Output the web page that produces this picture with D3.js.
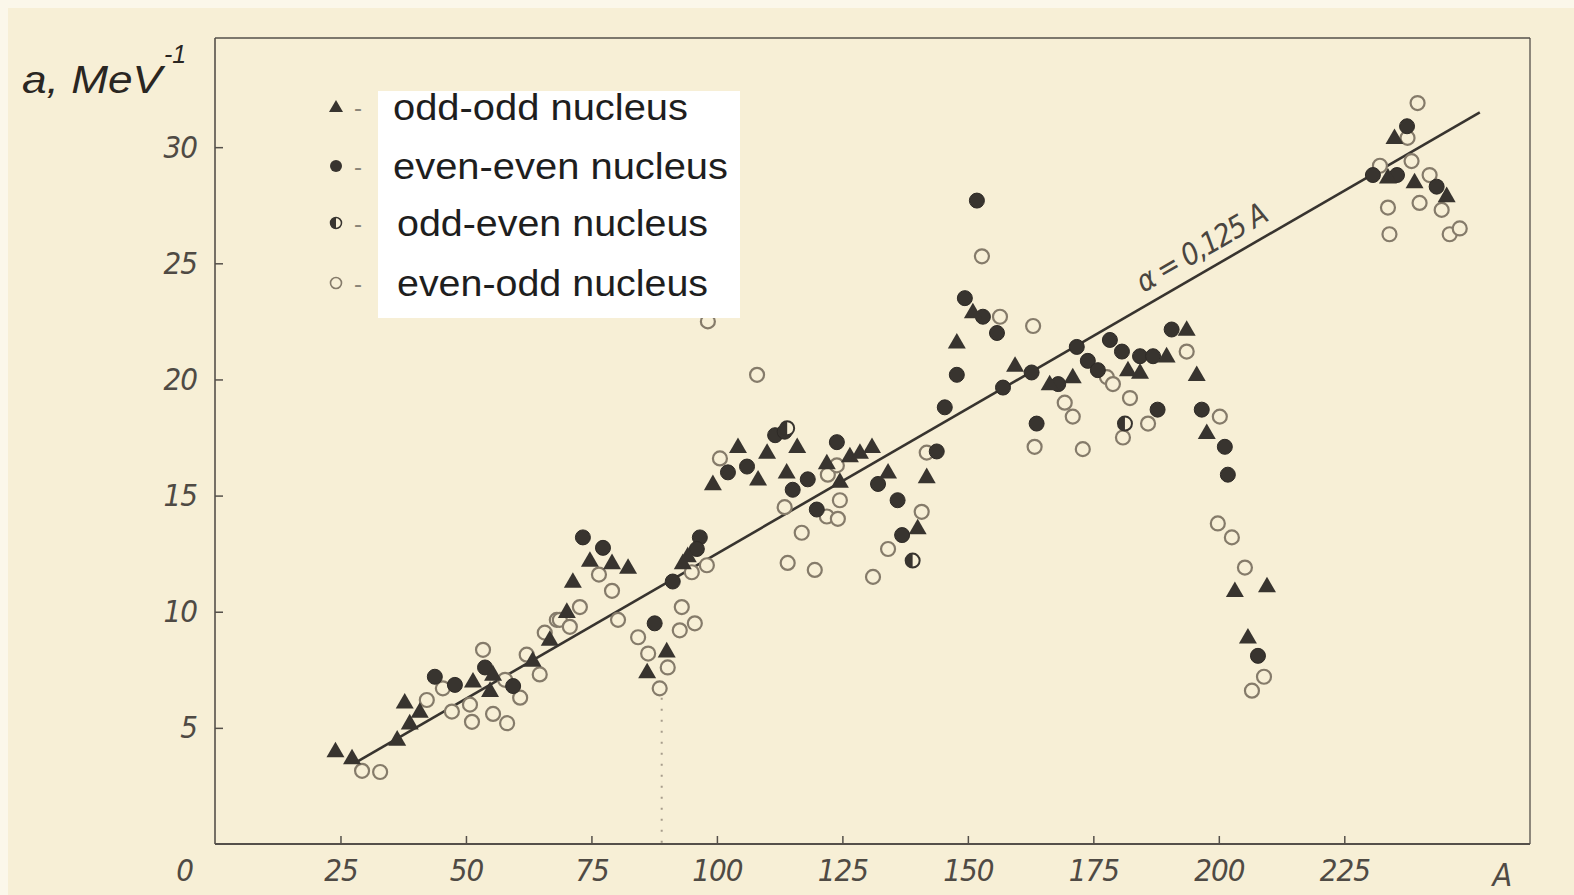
<!DOCTYPE html>
<html>
<head>
<meta charset="utf-8">
<script src="https://cdn.jsdelivr.net/npm/d3@7"></script>
<style>
  html, body { margin: 0; padding: 0; background: #f7efd6; }
  svg { display: block; }
</style>
</head>
<body>
<svg id="chart" width="1574" height="895"></svg>
<script>
// ---- data (A = mass number, a = level density parameter, MeV^-1) ----
const xTicks = [25, 50, 75, 100, 125, 150, 175, 200, 225];
const yTicks = [5, 10, 15, 20, 25, 30];
const legendLabels = ["odd-odd nucleus", "even-even nucleus", "odd-even nucleus", "even-odd nucleus"];
const fitSlope = 0.125;
const fitRange = [28, 252];
const fitLabel = "α = 0,125 A";

const oddOdd = [
  [24,4.0],[27.3,3.7],[36.3,4.5],[38.8,5.2],[37.8,6.1],[40.8,5.7],[51.4,7.0],[54.8,6.6],[55.4,7.3],
  [63.3,7.9],[66.7,8.8],[70.1,10.0],[71.3,11.3],[74.7,12.2],[79.1,12.1],[82.3,11.9],[86.1,7.4],[90.0,8.3],
  [93.2,12.1],[94.2,12.4],[99.2,15.5],[104.2,17.1],[108.2,15.7],[110,16.85],[113.9,16.0],[116,17.1],
  [121.9,16.4],[124.5,15.6],[126.5,16.7],[128.5,16.85],[130.9,17.1],[134.1,16.0],[140,13.6],[141.8,15.8],
  [147.8,21.6],[151,22.9],[159.4,20.6],[166.3,19.8],[170.9,20.1],[181.9,20.4],[184.3,20.3],[189.6,21.0],
  [193.6,22.15],[195.6,20.2],[197.6,17.7],[203.2,10.9],[209.6,11.1],[205.8,8.9],[235,30.4],[233.7,28.7],
  [239,28.5],[245.4,27.9]
];
const evenEven = [
  [43.8,7.2],[47.8,6.85],[53.8,7.6],[59.4,6.8],[73.3,13.2],[77.3,12.75],[87.6,9.5],[91.2,11.3],[96.6,13.2],
  [96.0,12.7],[102.2,16.0],[106,16.25],[111.6,17.6],[113.5,17.75],[115.1,15.25],[118.1,15.7],[119.9,14.4],
  [123.9,17.3],[132.1,15.5],[136,14.8],[136.9,13.3],[143.8,16.9],[145.4,18.8],[147.8,20.2],[149.4,23.5],
  [151.8,27.7],[153,22.7],[155.8,22.0],[157,19.65],[162.7,20.3],[163.7,18.1],[168,19.8],[171.7,21.4],
  [173.9,20.8],[175.9,20.4],[178.3,21.7],[180.7,21.2],[184.3,21.0],[186.9,21.0],[187.8,18.7],[190.6,22.15],
  [196.6,18.7],[201.2,17.1],[201.8,15.9],[207.8,8.1],[237.5,30.9],[230.7,28.8],[235.5,28.8],[243.4,28.3]
];
const oddEven = [[139,12.2],[181.3,18.1],[114,17.9]];
const evenOdd = [
  [29.3,3.15],[32.9,3.1],[42.2,6.2],[45.4,6.7],[47.2,5.7],[50.8,6.0],[51.2,5.26],[53.4,8.36],[55.4,5.6],
  [57.8,7.07],[58.2,5.2],[60.8,6.3],[62.1,8.15],[64.7,7.3],[68.1,9.65],[65.7,9.1],[68.7,9.65],[70.7,9.35],
  [72.7,10.2],[76.5,11.6],[79.1,10.9],[80.3,9.65],[84.3,8.9],[86.3,8.2],[88.6,6.7],[90.2,7.6],[92.6,9.2],
  [93.0,10.2],[95.6,9.5],[95.0,11.7],[98.0,12.0],[98.2,22.5],[100.6,16.6],[108,20.2],[113.5,14.5],
  [114.1,12.1],[116.9,13.4],[119.5,11.8],[121.9,14.1],[122.1,15.9],[123.9,16.3],[124.1,14.0],[124.5,14.8],
  [131.1,11.5],[134.1,12.7],[140.8,14.3],[141.8,16.85],[152.8,25.3],[156.4,22.7],[163,22.3],[163.3,17.1],
  [169.3,19.0],[170.9,18.4],[172.9,17.0],[177.7,20.1],[178.9,19.8],[180.9,17.5],[182.3,19.2],[185.9,18.1],
  [193.6,21.2],[200.2,18.4],[199.8,13.8],[202.6,13.2],[205.2,11.9],[209,7.2],[206.6,6.6],[239.6,31.9],
  [237.6,30.4],[238.4,29.4],[232.1,29.2],[242,28.8],[240,27.6],[244.4,27.3],[233.7,27.4],[234,26.25],
  [246,26.25],[248,26.5]
];
const dottedGuideA = 89; // faint dotted pencil line in the scan
const dottedGuideTop = 6.3;

// ---- layout ----
const svg = d3.select("#chart");
const W = 1574, H = 895;
const x = d3.scaleLinear().domain([0, 262]).range([215, 1530]);
const y = d3.scaleLinear().domain([0, 34.7]).range([844, 38]);

const ink = "#38342f";
const softInk = "#55504a";
const openInk = "#857b6a";
const paper = "#f7efd6";

// paper background
svg.append("rect").attr("width", W).attr("height", H).attr("fill", paper);
svg.append("rect").attr("x", 0).attr("y", 0).attr("width", W).attr("height", 8).attr("fill", "#fbf7ea");
svg.append("rect").attr("x", 0).attr("y", 0).attr("width", 8).attr("height", H).attr("fill", "#fbf7ea");

// frame
const fr = svg.append("g").attr("stroke", softInk).attr("fill", "none").attr("stroke-width", 1.6);
fr.append("line").attr("x1", x(0)).attr("x2", x(0)).attr("y1", y(34.7)).attr("y2", y(0));
fr.append("line").attr("x1", x(0)).attr("x2", x(262)).attr("y1", y(0)).attr("y2", y(0)).attr("stroke-width", 2);
fr.append("line").attr("x1", x(0)).attr("x2", x(262)).attr("y1", y(34.7)).attr("y2", y(34.7)).attr("stroke-width", 1.3);
fr.append("line").attr("x1", x(262)).attr("x2", x(262)).attr("y1", y(34.7)).attr("y2", y(0)).attr("stroke-width", 1.3);

// axes via d3
const tickFont = "'Liberation Sans Narrow', 'DejaVu Sans Condensed', 'Liberation Sans', sans-serif";
const xAxis = d3.axisBottom(x).tickValues(xTicks).tickSizeInner(-8).tickSizeOuter(0).tickPadding(20);
const gx = svg.append("g").attr("transform", `translate(0,${y(0)})`).call(xAxis);
gx.select(".domain").remove();
gx.selectAll(".tick line").attr("stroke", softInk).attr("stroke-width", 1.5);
gx.selectAll(".tick text").attr("fill", "#4f4a44").attr("font-size", 31).attr("font-style", "italic")
  .attr("font-family", tickFont).attr("dy", "0.55em").style("letter-spacing", "-1px");

const yAxis = d3.axisLeft(y).tickValues(yTicks).tickSizeInner(-8).tickSizeOuter(0).tickPadding(18);
const gy = svg.append("g").attr("transform", `translate(${x(0)},0)`).call(yAxis);
gy.select(".domain").remove();
gy.selectAll(".tick line").attr("stroke", softInk).attr("stroke-width", 1.5);
gy.selectAll(".tick text").attr("fill", "#4f4a44").attr("font-size", 31).attr("font-style", "italic")
  .attr("font-family", tickFont).style("letter-spacing", "-1px");

// corner "0" and axis name "A"
svg.append("text").attr("x", x(0) - 30).attr("y", y(0) + 37).attr("text-anchor", "middle")
  .attr("font-size", 31).attr("font-style", "italic").attr("font-family", tickFont).attr("fill", "#4f4a44").text("0");
svg.append("text").attr("x", x(256.5)).attr("y", y(0) + 42).attr("text-anchor", "middle")
  .attr("font-size", 32).attr("font-style", "italic").attr("font-family", tickFont).attr("fill", "#4f4a44").text("A");

// y title
const yt = svg.append("text").attr("x", 22).attr("y", 93).attr("font-family", "'Liberation Sans', Arial, sans-serif")
  .attr("font-size", 38).attr("font-style", "italic").attr("fill", "#2a2622");
yt.append("tspan").attr("textLength", 140).attr("lengthAdjust", "spacingAndGlyphs").text("a, MeV");
yt.append("tspan").attr("dy", -30).attr("dx", 2).attr("font-size", 25).text("-1");

// dotted pencil guide
svg.append("line").attr("x1", x(dottedGuideA)).attr("x2", x(dottedGuideA))
  .attr("y1", y(dottedGuideTop)).attr("y2", y(0)).attr("stroke", "#a79d8c")
  .attr("stroke-width", 2).attr("stroke-dasharray", "2,9");

// fit line
svg.append("line").attr("x1", x(fitRange[0])).attr("y1", y(fitSlope * fitRange[0]))
  .attr("x2", x(fitRange[1])).attr("y2", y(fitSlope * fitRange[1]))
  .attr("stroke", ink).attr("stroke-width", 2.6);

// fit label along the line
const angle = Math.atan2(y(fitSlope * 200) - y(0), x(200) - x(0)) * 180 / Math.PI;
const lx = x(197.5), ly = y(fitSlope * 197.5) - 14;
svg.append("text").attr("transform", `translate(${lx},${ly}) rotate(${angle})`)
  .attr("font-family", tickFont).attr("font-style", "italic").attr("font-size", 30)
  .attr("fill", "#4a453f").attr("text-anchor", "middle").style("letter-spacing", "-1.5px").text(fitLabel);

// markers
const triSym = d3.symbol().type(d3.symbolTriangle).size(140);
const pts = svg.append("g");

function drawOpen(g, data) {
  g.selectAll(null).data(data).enter().append("circle")
    .attr("cx", d => x(d[0])).attr("cy", d => y(d[1])).attr("r", 7)
    .attr("fill", paper).attr("stroke", openInk).attr("stroke-width", 2.2);
}
function drawFilled(g, data) {
  g.selectAll(null).data(data).enter().append("circle")
    .attr("cx", d => x(d[0])).attr("cy", d => y(d[1])).attr("r", 7.5)
    .attr("fill", ink).attr("stroke", "#2e2a26").attr("stroke-width", 1);
}
function drawTri(g, data) {
  g.selectAll(null).data(data).enter().append("path")
    .attr("d", triSym).attr("transform", d => `translate(${x(d[0])},${y(d[1]) + 1})`)
    .attr("fill", ink);
}
function drawHalf(g, data) {
  const gg = g.selectAll(null).data(data).enter().append("g")
    .attr("transform", d => `translate(${x(d[0])},${y(d[1])})`);
  gg.append("circle").attr("r", 7).attr("fill", paper).attr("stroke", ink).attr("stroke-width", 2);
  gg.append("path").attr("d", d3.arc()({innerRadius: 0, outerRadius: 7, startAngle: Math.PI, endAngle: 2 * Math.PI}))
    .attr("fill", ink);
}

drawOpen(pts, evenOdd);
drawFilled(pts, evenEven);
drawHalf(pts, oddEven);
drawTri(pts, oddOdd);

// legend
svg.append("rect").attr("x", 378).attr("y", 91).attr("width", 362).attr("height", 227).attr("fill", "#ffffff");
const legRows = [107, 166, 223, 283];
const legX = [393, 393, 397, 397];
const legW = [295, 335, 311, 311];
const lg = svg.append("g");
legendLabels.forEach((t, i) => {
  lg.append("text").attr("x", legX[i]).attr("y", legRows[i] + 13)
    .attr("font-family", "'Liberation Sans', Arial, sans-serif").attr("font-size", 36)
    .attr("textLength", legW[i]).attr("lengthAdjust", "spacingAndGlyphs")
    .attr("fill", "#1e1e1e").text(t);
  lg.append("text").attr("x", 354).attr("y", legRows[i] + 9)
    .attr("font-family", "'Liberation Sans', Arial, sans-serif").attr("font-size", 24)
    .attr("fill", "#8a8478").text("-");
});
const lm = lg.append("g");
lm.append("path").attr("d", d3.symbol().type(d3.symbolTriangle).size(85)()).attr("transform", `translate(336,${legRows[0] + 1})`).attr("fill", ink);
lm.append("circle").attr("cx", 336).attr("cy", legRows[1]).attr("r", 6).attr("fill", ink);
const hg = lm.append("g").attr("transform", `translate(336,${legRows[2]})`);
hg.append("circle").attr("r", 5.5).attr("fill", paper).attr("stroke", ink).attr("stroke-width", 1.5);
hg.append("path").attr("d", d3.arc()({innerRadius: 0, outerRadius: 5.5, startAngle: Math.PI, endAngle: 2 * Math.PI})).attr("fill", ink);
lm.append("circle").attr("cx", 336).attr("cy", legRows[3]).attr("r", 5.5).attr("fill", "none").attr("stroke", openInk).attr("stroke-width", 1.6);
</script>
</body>
</html>
